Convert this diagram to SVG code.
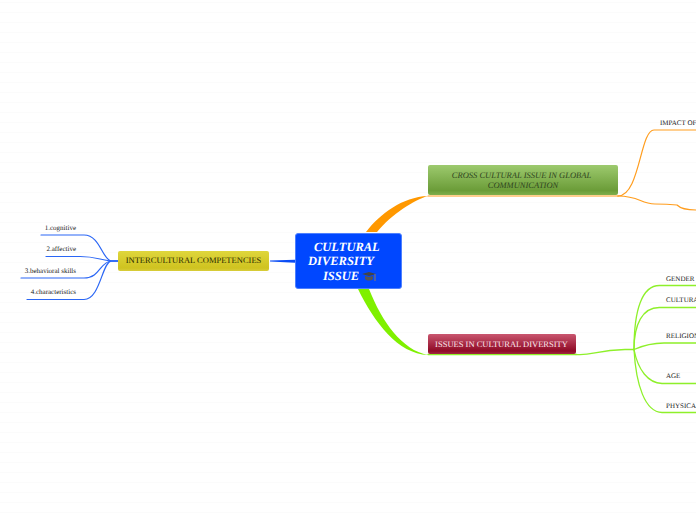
<svg xmlns="http://www.w3.org/2000/svg" width="696" height="520" viewBox="0 0 696 520">
<defs>
<pattern id="bgp" width="696" height="10" patternUnits="userSpaceOnUse" y="2"><rect width="696" height="1.2" fill="#fbfbfb"/></pattern>
<linearGradient id="gg" x1="0" y1="0" x2="0" y2="1"><stop offset="0" stop-color="#9dca6e"/><stop offset="0.85" stop-color="#6b9c38"/><stop offset="1" stop-color="#7fae4c"/></linearGradient>
<linearGradient id="gr" x1="0" y1="0" x2="0" y2="1"><stop offset="0" stop-color="#c9566f"/><stop offset="0.85" stop-color="#8f0a26"/><stop offset="1" stop-color="#a02a42"/></linearGradient>
<linearGradient id="gy" x1="0" y1="0" x2="0" y2="1"><stop offset="0" stop-color="#dfd63c"/><stop offset="0.85" stop-color="#cfc320"/><stop offset="1" stop-color="#d8cd3a"/></linearGradient>
</defs>
<style>
text{font-family:"Liberation Serif","Times New Roman",serif;text-rendering:geometricPrecision}
.c{fill:none;stroke-linecap:round}
.o{stroke:#ff9d1e;stroke-width:1.2}
.l{stroke:#8ef02a;stroke-width:1.3}
.b{stroke:#2a66f5;stroke-width:1.2}
.s{font-size:7px;fill:#222}
.m{font-size:8.5px}
.t{font-size:12.500px;font-weight:bold;font-style:italic;fill:#fff}
</style>
<rect width="696" height="520" fill="#fff"/>
<rect width="696" height="520" fill="url(#bgp)"/>
<g id="connectors">
<path d="M366 232C380 214 402 197 428 196C414 200 392 214 377 232Z" fill="#ff9800"/>
<path d="M358 289C374 322 398 354 428 355C402 350 382 322 369 289Z" fill="#7ff000"/>
<path d="M295 259.800L270 260.600V261.400L295 262.800Z" fill="#0a4cf5"/>
<path class="c o" d="M428 196H618"/>
<path class="c l" d="M428 354.500H576"/>
<path class="c o" d="M618 196C640 196 640 130 654 130C658 130 660 130 696 130"/>
<path class="c o" d="M618 196C640 196 640 204 655 204C665 204 672 204.500 677 205C681 209 688 210 696 210"/>
<path class="c l" d="M576 354.500C592 356 596 350 625 349.500H634"/>
<path class="c l" d="M634 349.500C634 310 642 285 660 285.500H696"/>
<path class="c l" d="M634 349.500C634 325 642 307 660 307.500H696"/>
<path class="c l" d="M634 349.500C642 346 650 343 664 343H696"/>
<path class="c l" d="M634 349.500C638 370 648 383 662 383.500H696"/>
<path class="c l" d="M634 349.500C636 385 645 412 662 412.500H696"/>
<path class="c b" d="M118 261H111C102 259 100 235 84 235H41"/>
<path class="c b" d="M118 261H111C100 260 96 256.500 80 256.500H46"/>
<path class="c b" d="M118 261H111C100 262 100 278 84 278H21"/>
<path class="c b" d="M118 261H111C102 263 100 299.500 84 299.500H27"/>
</g>
<g id="central"><rect x="295.500" y="233.500" width="106" height="55" rx="2.500" fill="#0047ff" stroke="#4d80ff"/>
<text class="t" x="314" y="251">CULTURAL</text><text class="t" x="308" y="265">DIVERSITY</text><text class="t" x="323" y="280">ISSUE</text>
<path d="M362 274L369 276L376 274L369 272Z" fill="#444"/><path d="M365 276V279C367 281 371 281 373 279V276L369 277Z" fill="#555"/><path d="M375 274V281" stroke="#b08a40" stroke-width="0.800" fill="none"/></g>
<g id="cross"><rect x="428" y="165" width="190" height="30" rx="2" fill="url(#gg)"/>
<text class="m" x="521.500" y="178" text-anchor="middle" font-style="italic" fill="#2f4420">CROSS CULTURAL ISSUE IN GLOBAL</text><text class="m" x="523" y="188" text-anchor="middle" font-style="italic" fill="#2f4420">COMMUNICATION</text></g>
<g id="issues"><rect x="428" y="334" width="148" height="20" rx="2" fill="url(#gr)"/><text class="m" x="501.500" y="347" text-anchor="middle" fill="#fbe9ee">ISSUES IN CULTURAL DIVERSITY</text></g>
<g id="intercultural"><rect x="118" y="251" width="151" height="20" rx="2" fill="url(#gy)"/><text class="m" x="193.500" y="263" text-anchor="middle" fill="#2a2a00">INTERCULTURAL COMPETENCIES</text></g>
<g id="impact"><text class="s" x="660" y="125">IMPACT OF</text></g>
<g id="gender"><text class="s" x="666" y="281">GENDER</text></g>
<g id="cultural"><text class="s" x="666" y="302">CULTURA</text></g>
<g id="religion"><text class="s" x="666" y="338">RELIGION</text></g>
<g id="age"><text class="s" x="666" y="378">AGE</text></g>
<g id="physical"><text class="s" x="666" y="408">PHYSICA</text></g>
<g id="n1"><text class="s" x="76" y="230" text-anchor="end">1.cognitive</text></g>
<g id="n2"><text class="s" x="76" y="251" text-anchor="end">2.affective</text></g>
<g id="n3"><text class="s" x="76" y="273" text-anchor="end">3.behavioral skills</text></g>
<g id="n4"><text class="s" x="76" y="294" text-anchor="end">4.characteristics</text></g>
</svg>
